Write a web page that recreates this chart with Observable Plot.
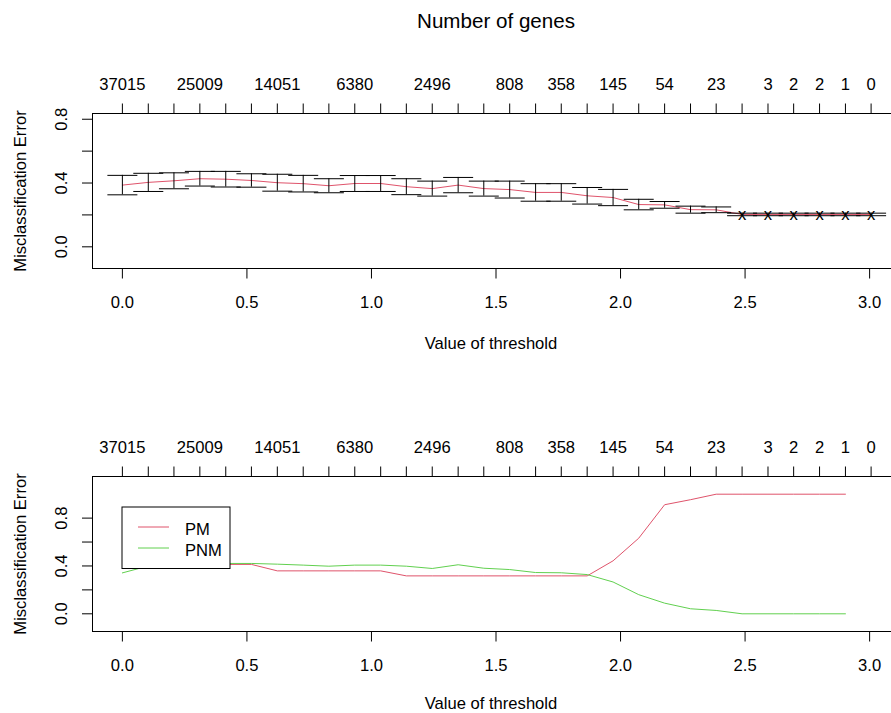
<!DOCTYPE html>
<html><head><meta charset="utf-8">
<script src="https://cdn.jsdelivr.net/npm/d3@7"></script>
<script src="https://cdn.jsdelivr.net/npm/@observablehq/plot@0.6"></script>
<style>
html,body{margin:0;padding:0;background:#fff;overflow:hidden;width:891px;height:713px;}
#wrap{position:relative;width:891px;height:713px;overflow:hidden;}
.panel{position:absolute;left:0;width:900px;}
.panel svg{max-width:none !important;width:900px;}
</style></head><body>
<div id="wrap"><div id="p1" class="panel" style="top:0"></div><div id="p2" class="panel" style="top:357px"></div></div>
<script>
// threshold grid (30 values)
const thresholds = [0, 0.104, 0.207, 0.311, 0.415, 0.518, 0.622, 0.726, 0.829, 0.933,
  1.037, 1.140, 1.244, 1.348, 1.451, 1.555, 1.659, 1.762, 1.866, 1.970,
  2.073, 2.177, 2.281, 2.384, 2.488, 2.592, 2.695, 2.799, 2.903, 3.006];
// number of genes labels shown on the top axis ("" = label dropped)
const geneLabels = ["37015","","","25009","","","14051","","","6380",
  "","","2496","","","808","","358","","145",
  "","54","","23","","3","2","2","1","0"];
// overall CV misclassification error and its standard error
const cvError = [0.387, 0.404, 0.414, 0.427, 0.424, 0.416, 0.402, 0.396, 0.383, 0.397,
  0.397, 0.377, 0.365, 0.387, 0.365, 0.359, 0.341, 0.341, 0.320, 0.309,
  0.265, 0.263, 0.233, 0.232, 0.203, 0.203, 0.203, 0.203, 0.203, 0.203];
const cvSE = [0.061, 0.057, 0.050, 0.046, 0.049, 0.042, 0.053, 0.052, 0.044, 0.050,
  0.050, 0.050, 0.047, 0.048, 0.047, 0.053, 0.055, 0.055, 0.052, 0.051,
  0.033, 0.021, 0.022, 0.018, 0.008, 0.008, 0.008, 0.008, 0.008, 0.008];
// per-class errors
const classNames = ["PM", "PNM"];
const classColors = ["#DF536B", "#61D04F"];
const pmError = [0.50, 0.45, 0.43, 0.43, 0.413, 0.413, 0.359, 0.359, 0.359, 0.359,
  0.359, 0.317, 0.317, 0.317, 0.317, 0.317, 0.317, 0.317, 0.317, 0.443,
  0.632, 0.912, 0.954, 1.0, 1.0, 1.0, 1.0, 1.0, 1.0, null];
const pnmError = [0.342, 0.40, 0.41, 0.42, 0.421, 0.421, 0.415, 0.407, 0.398, 0.407,
  0.407, 0.398, 0.379, 0.41, 0.381, 0.37, 0.345, 0.343, 0.328, 0.266,
  0.16, 0.089, 0.042, 0.028, 0, 0, 0, 0, 0, null];
const xTicks = [0, 0.5, 1, 1.5, 2, 2.5, 3];
const yTicks = [0, 0.2, 0.4, 0.6, 0.8];
const yLabelTicks = [0, 0.4, 0.8];

const FONT = "'Liberation Sans', Arial, Helvetica, sans-serif";
const FS = 16.6;
const fmt1 = d3.format(".1f");
const labelOf = new Map(thresholds.map((t, i) => [t, geneLabels[i]]));

const topData = thresholds.map((t, i) => ({t, err: cvError[i], se: cvSE[i], lo: cvError[i] - cvSE[i], hi: cvError[i] + cvSE[i]}));
const classData = [];
thresholds.forEach((t, i) => {
  classData.push({t, cls: classNames[0], err: pmError[i]});
});
thresholds.forEach((t, i) => {
  classData.push({t, cls: classNames[1], err: pnmError[i]});
});

const capSymbol = {draw(ctx) { ctx.moveTo(-15, 0); ctx.lineTo(15, 0); }};

function commonMarks(xTitleDy) {
  return [
    Plot.frame({stroke: "black", strokeWidth: 1}),
    Plot.axisX({anchor: "top", ticks: thresholds, tickFormat: d => labelOf.get(d), tickSize: 10.5, tickPadding: 13, label: null, fontSize: FS}),
    Plot.axisX({anchor: "bottom", ticks: xTicks, tickFormat: fmt1, tickSize: 10.5, tickPadding: 17, label: null, fontSize: FS}),
    Plot.axisY({anchor: "left", ticks: yTicks, tickFormat: () => "", tickSize: 10, label: null}),
    Plot.text(yLabelTicks, {y: d => d, text: d => fmt1(d), frameAnchor: "left", dx: -25.5, rotate: -90, lineAnchor: "bottom", textAnchor: "middle", fontSize: FS, fill: "black"}),
    Plot.text(["Misclassification Error"], {frameAnchor: "left", dx: -67, rotate: -90, lineAnchor: "bottom", textAnchor: "middle", fontSize: FS, fill: "black"}),
    Plot.text(["Value of threshold"], {frameAnchor: "bottom", dx: -5, dy: xTitleDy, lineAnchor: "bottom", fontSize: FS, fill: "black"})
  ];
}

const chart1 = Plot.plot({
  width: 900, height: 357,
  marginLeft: 92, marginRight: 1, marginTop: 113, marginBottom: 89,
  style: {fontFamily: FONT, fontSize: FS + "px", color: "black", background: "white", overflow: "visible"},
  x: {domain: [-0.12, 3.12]},
  y: {domain: [-0.136, 0.836]},
  marks: [
    ...commonMarks(80.3),
    Plot.text(["Number of genes"], {frameAnchor: "top", dy: -86, lineAnchor: "bottom", fontSize: 20.6, fill: "black"}),
    Plot.line(topData, {x: "t", y: "err", stroke: classColors[0], strokeWidth: 1}),
    Plot.ruleX(topData, {x: "t", y1: "lo", y2: "hi", stroke: "black", strokeWidth: 1}),
    Plot.dot(topData, {x: "t", y: "lo", symbol: capSymbol, r: 3, stroke: "black", fill: "none", strokeWidth: 1}),
    Plot.dot(topData, {x: "t", y: "hi", symbol: capSymbol, r: 3, stroke: "black", fill: "none", strokeWidth: 1}),
    Plot.text(topData.filter(d => d.se < 0.01), {x: "t", y: "err", text: () => "x", fontSize: FS, fill: "black"})
  ]
});
document.getElementById("p1").appendChild(chart1);

const chart2 = Plot.plot({
  width: 900, height: 356,
  marginLeft: 92, marginRight: 1, marginTop: 119, marginBottom: 82,
  style: {fontFamily: FONT, fontSize: FS + "px", color: "black", background: "white", overflow: "visible"},
  x: {domain: [-0.12, 3.12]},
  y: {domain: [-0.148, 1.148]},
  color: {domain: classNames, range: classColors},
  marks: [
    ...commonMarks(77.5),
    Plot.line(classData, {x: "t", y: "err", z: "cls", stroke: "cls", strokeWidth: 1, defined: d => d.err != null})
  ]
});
document.getElementById("p2").appendChild(chart2);

// legend box
const svg2 = d3.select(chart2);
const lg = svg2.append("g").attr("font-family", FONT).attr("font-size", FS).attr("text-anchor", "start");
lg.append("rect").attr("x", 122).attr("y", 150).attr("width", 108).attr("height", 61.5)
  .attr("fill", "white").attr("stroke", "black").attr("stroke-width", 1);
classNames.forEach((name, i) => {
  const yy = 170 + i * 21;
  lg.append("line").attr("x1", 138).attr("x2", 169).attr("y1", yy).attr("y2", yy)
    .attr("stroke", classColors[i]).attr("stroke-width", 1);
  lg.append("text").attr("x", 185).attr("y", yy + 8).attr("fill", "black").text(name);
});
</script>
</body></html>
